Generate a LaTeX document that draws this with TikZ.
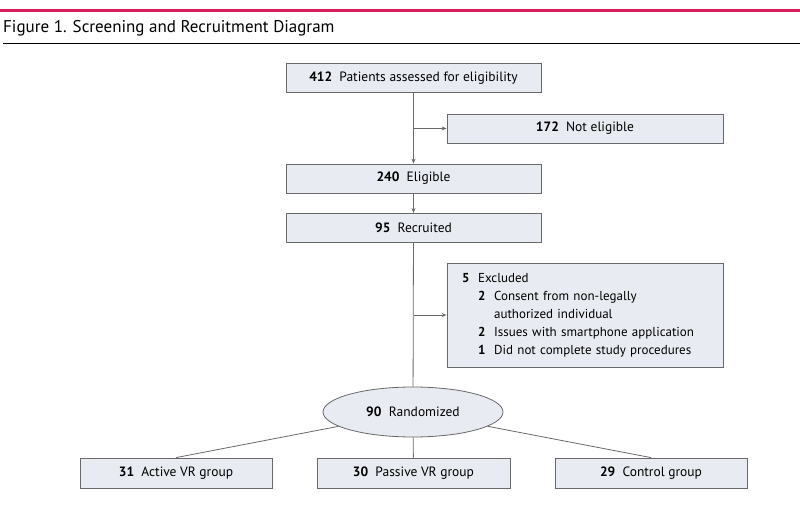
\documentclass[tikz,border=0pt]{standalone}
\usepackage{fontspec}
\setmainfont{PT Sans}
\usetikzlibrary{arrows.meta,shapes.geometric}
\definecolor{jamared}{RGB}{214,30,90}
\definecolor{boxfill}{RGB}{232,235,241}
\definecolor{linegray}{RGB}{105,105,105}
\tikzset{
  caja/.style={draw=linegray, fill=boxfill, line width=0.8pt, minimum height=29pt, inner sep=0pt, font=\fontsize{13.5}{18}\selectfont},
  flecha/.style={draw=linegray, line width=0.8pt, -{Stealth[length=5pt,width=4pt]}},
  linea/.style={draw=linegray, line width=0.8pt},
}
\begin{document}
\begin{tikzpicture}[x=1pt,y=-1pt]
        \useasboundingbox (0,0) rectangle (800,518);
        % Cabecera
        \draw[jamared, line width=3pt] (0,10.5) -- (800,10.5);
        \node[anchor=base west, inner sep=0pt, font=\fontsize{17}{19}\selectfont] (titulo) at (3,33) {Figure 1. Screening and Recruitment Diagram};
        \draw[line width=0.8pt] (3,43.5) -- (800,43.5);
        % Cajas
        \node[caja, minimum width=255pt] (assess) at (413.5,78) {\textbf{412}\ \ Patients assessed for eligibility};
        \node[caja, minimum width=276pt] (noelig) at (585,128.5) {\textbf{172}\ \ Not eligible};
        \node[caja, minimum width=255pt] (elig) at (413.5,178.5) {\textbf{240}\ \ Eligible};
        \node[caja, minimum width=255pt] (recr) at (413.5,228) {\textbf{95}\ \ Recruited};
        \node[caja, minimum width=276pt, minimum height=104pt, text width=246pt, align=left, font=\fontsize{13}{18}\selectfont] (excl) at (585,315) {%
          \begin{tabular}{@{}l@{\ \ }l@{\ \ }l@{}}
          \textbf{5} & \multicolumn{2}{@{}l}{Excluded}\\
           & \textbf{2} & Consent from non-legally\\
           & & authorized individual\\
           & \textbf{2} & Issues with smartphone application\\
           & \textbf{1} & Did not complete study procedures
          \end{tabular}};
        \node[ellipse, draw=linegray, fill=boxfill, line width=0.8pt, minimum width=180pt, minimum height=50pt, inner sep=0pt, font=\fontsize{13.5}{18}\selectfont] (rand) at (413,412) {\textbf{90}\ \ Randomized};
        \node[caja, minimum width=192pt, minimum height=30pt] (activo) at (176,473) {\textbf{31}\ \ Active VR group};
        \node[caja, minimum width=193pt, minimum height=30pt] (pasivo) at (413.5,473) {\textbf{30}\ \ Passive VR group};
        \node[caja, minimum width=192pt, minimum height=30pt] (control) at (651,473) {\textbf{29}\ \ Control group};
        % Conectores
        \coordinate (b1) at (assess.south |- noelig.west);
        \coordinate (b2) at (recr.south |- excl.west);
        \draw[flecha] (assess) -- (elig);
        \draw[flecha] (b1) -- (noelig.west);
        \draw[flecha] (elig) -- (recr);
        \draw[linea] (recr) -- (rand);
        \draw[flecha] (b2) -- (excl.west);
        \draw[linea] (rand) -- (activo.north);
        \draw[linea] (rand) -- (pasivo);
        \draw[linea] (rand) -- (control.north);
    \end{tikzpicture}
\end{document}
